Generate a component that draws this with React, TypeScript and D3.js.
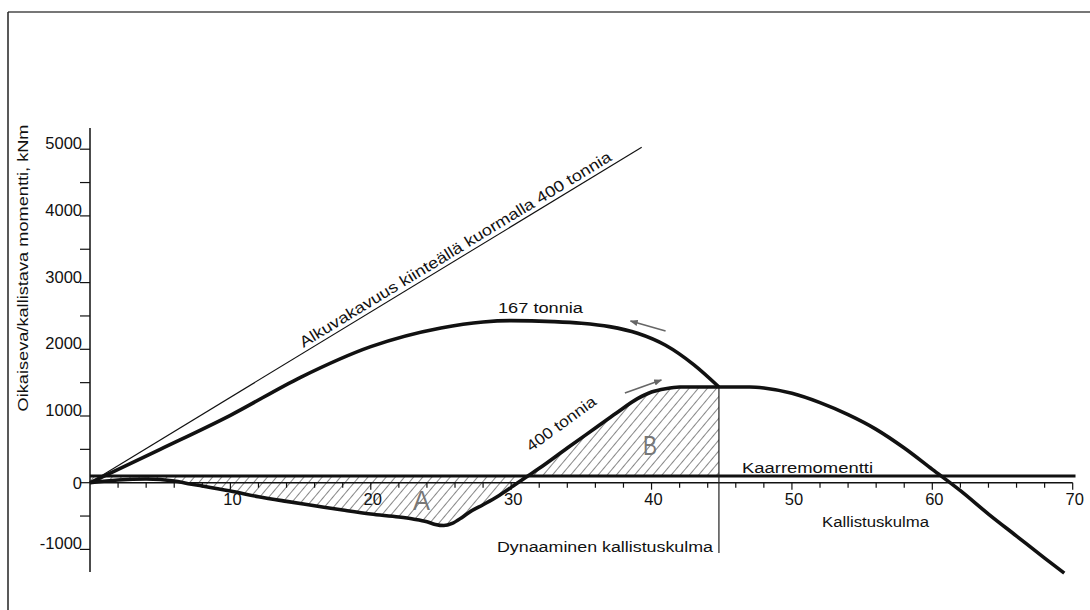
import { useEffect, useRef } from "react";
import * as d3 from "d3";

// kallistuskulma (deg) / momentti (kNm)
const angle167 = [0, 5, 10, 15, 20, 25, 28, 30, 33, 35, 37, 39, 41, 43, 44.8];
const moment167 = [0, 500, 1010, 1580, 2040, 2320, 2410, 2430, 2415, 2390, 2340, 2240, 2060, 1770, 1435];

const angle400 = [0, 2, 4, 6, 7, 8, 10, 12, 14, 16, 18, 20, 22, 23, 24, 24.6, 25.2, 25.8, 26.5, 27, 28, 29, 30, 31, 32, 34, 36, 37.5, 39, 40, 41, 42, 44.8];
const moment400 = [0, 40, 55, 25, -15, -50, -125, -210, -280, -345, -410, -470, -515, -545, -585, -625, -642, -610, -520, -445, -330, -210, -70, 75, 215, 520, 820, 1045, 1260, 1360, 1410, 1435, 1435];

const angleCommon = [44.8, 46, 47, 48, 50, 52, 54, 56, 58, 60, 62, 64, 66, 68, 69.4];
const momentCommon = [1435, 1435, 1435, 1420, 1340, 1200, 1020, 800, 520, 200, -120, -470, -800, -1130, -1355];

const stabilityAngle = [0, 39.3];
const stabilityMoment = [0, 5030];

const heelAngle = [0, 70.2];
const heelMoment = [100, 100];

const yMajorTicks = [-1000, 0, 1000, 2000, 3000, 4000, 5000];
const yMinorTicks = [-500, 500, 1500, 2500, 3500, 4500];
const xMajorTicks = [10, 20, 30, 40, 50, 60, 70];
const dynamicAngle = 44.8;

const FONT = "'Liberation Sans', Arial, sans-serif";

export default function App() {
    const svgRef = useRef<SVGSVGElement>(null);

    useEffect(() => {
        if (!svgRef.current) return;
        const svg = d3.select(svgRef.current);
        svg.selectAll("*").remove();

        const x = d3.scaleLinear().domain([0, 70]).range([90, 1072.7]);
        const y = d3.scaleLinear().domain([0, 5000]).range([482.7, 149.2]);

        const pts = (a: number[], m: number[]) => a.map((v, i) => [v, m[i]] as [number, number]);
        const line = d3.line<[number, number]>()
            .x(d => x(d[0]))
            .y(d => y(d[1]))
            .curve(d3.curveMonotoneX);

        // hatch pattern
        const defs = svg.append("defs");
        const pat = defs.append("pattern")
            .attr("id", "hatch")
            .attr("patternUnits", "userSpaceOnUse")
            .attr("width", 7)
            .attr("height", 10)
            .attr("patternTransform", "rotate(40)");
        pat.append("line")
            .attr("x1", 0).attr("y1", -1).attr("x2", 0).attr("y2", 11)
            .style("stroke", "#222")
            .style("stroke-width", 1.1);

        defs.append("marker")
            .attr("id", "arrow")
            .attr("viewBox", "0 0 10 10")
            .attr("refX", 9).attr("refY", 5)
            .attr("markerWidth", 5).attr("markerHeight", 5)
            .attr("markerUnits", "strokeWidth")
            .attr("orient", "auto")
            .append("path")
            .attr("d", "M0,1 L10,5 L0,9 Z")
            .style("fill", "#666");

        // frame
        svg.append("line").attr("x1", 8).attr("y1", 12).attr("x2", 1090).attr("y2", 12)
            .style("stroke", "#777").style("stroke-width", 2);
        svg.append("line").attr("x1", 8).attr("y1", 12).attr("x2", 8).attr("y2", 610)
            .style("stroke", "#222").style("stroke-width", 1.5);

        // hatched areas A and B
        svg.append("path")
            .datum(pts(angle400, moment400))
            .attr("d", d3.area<[number, number]>()
                .x(d => x(d[0]))
                .y0(y(heelMoment[0]))
                .y1(d => y(d[1]))
                .curve(d3.curveMonotoneX))
            .style("fill", "url(#hatch)")
            .style("stroke", "none");

        // y axis
        svg.append("line").attr("x1", x(0)).attr("x2", x(0)).attr("y1", 128).attr("y2", 572)
            .style("stroke", "#111").style("stroke-width", 1.5);
        [...yMajorTicks, ...yMinorTicks].forEach(t => {
            svg.append("line").attr("x1", x(0) - 10).attr("x2", x(0)).attr("y1", y(t)).attr("y2", y(t))
                .style("stroke", "#111").style("stroke-width", 1.2);
        });
        yMajorTicks.forEach(t => {
            svg.append("text")
                .attr("x", 82)
                .attr("y", y(t) + (t === 0 ? 6 : 0))
                .attr("text-anchor", "end")
                .style("font-family", FONT)
                .style("font-size", "16.5px")
                .style("fill", "#111")
                .text(t);
        });
        svg.append("text")
            .attr("transform", `translate(28,268) rotate(-90)`)
            .attr("text-anchor", "middle")
            .attr("textLength", 287)
            .attr("lengthAdjust", "spacingAndGlyphs")
            .style("font-family", FONT)
            .style("font-size", "15.5px")
            .style("fill", "#111")
            .text("Oikaiseva/kallistava momentti, kNm");

        // x axis
        svg.append("line").attr("x1", x(0)).attr("x2", x(70)).attr("y1", y(0)).attr("y2", y(0))
            .style("stroke", "#111").style("stroke-width", 1.5);
        d3.range(2, 71, 2).forEach(t => {
            svg.append("line").attr("x1", x(t)).attr("x2", x(t)).attr("y1", y(0))
                .attr("y2", y(0) + (t % 10 === 0 ? 7 : 5))
                .style("stroke", "#111").style("stroke-width", 1.2);
        });
        xMajorTicks.forEach(t => {
            svg.append("text")
                .attr("x", x(t) + 2)
                .attr("y", 505)
                .attr("text-anchor", "middle")
                .style("font-family", FONT)
                .style("font-size", "16.5px")
                .style("fill", "#111")
                .text(t);
        });

        // heeling moment line
        svg.append("path")
            .datum(pts(heelAngle, heelMoment))
            .attr("d", line)
            .style("fill", "none").style("stroke", "#111").style("stroke-width", 3);

        // initial stability line
        svg.append("path")
            .datum(pts(stabilityAngle, stabilityMoment))
            .attr("d", line)
            .style("fill", "none").style("stroke", "#111").style("stroke-width", 1.1);

        // dynamic angle vertical
        svg.append("line")
            .attr("x1", x(dynamicAngle)).attr("x2", x(dynamicAngle))
            .attr("y1", y(1435)).attr("y2", 553)
            .style("stroke", "#222").style("stroke-width", 1.2);

        // curves
        [pts(angle167, moment167), pts(angle400, moment400), pts(angleCommon, momentCommon)].forEach(d => {
            svg.append("path")
                .datum(d)
                .attr("d", line)
                .style("fill", "none")
                .style("stroke", "#111")
                .style("stroke-width", 3.6)
                .style("stroke-linejoin", "round");
        });

        // arrows
        const arrows = [
            { from: [41.0, 2274], to: [38.5, 2424] },
            { from: [38.1, 1345], to: [40.7, 1540] },
        ];
        arrows.forEach(a => {
            svg.append("line")
                .attr("x1", x(a.from[0])).attr("y1", y(a.from[1]))
                .attr("x2", x(a.to[0])).attr("y2", y(a.to[1]))
                .style("stroke", "#666").style("stroke-width", 1.6)
                .attr("marker-end", "url(#arrow)");
        });

        // labels
        const slope = (y(stabilityMoment[1]) - y(0)) / (x(stabilityAngle[1]) - x(0));
        const ang = Math.atan(slope) * 180 / Math.PI;
        const sx = x(15.2);
        const sy = y(0) + slope * (sx - x(0)) - 5;
        svg.append("text")
            .attr("transform", `translate(${sx},${sy}) rotate(${ang})`)
            .attr("textLength", 362)
            .attr("lengthAdjust", "spacingAndGlyphs")
            .style("font-family", FONT)
            .style("font-size", "15.5px")
            .style("fill", "#111")
            .text("Alkuvakavuus kiinteällä kuormalla 400 tonnia");

        const label = (txt: string, lx: number, ly: number, len: number, opts: any = {}) => {
            const t = svg.append("text")
                .attr("x", lx).attr("y", ly)
                .attr("textLength", len)
                .attr("lengthAdjust", "spacingAndGlyphs")
                .style("font-family", FONT)
                .style("font-size", opts.size || "15.5px")
                .style("fill", opts.fill || "#111")
                .text(txt);
            if (opts.rotate) t.attr("transform", `rotate(${opts.rotate},${lx},${ly})`);
            return t;
        };
        label("167 tonnia", 498, 313, 85);
        label("400 tonnia", 531, 452, 82, { rotate: -36 });
        label("Kaarremomentti", 742, 473, 131);
        label("Kallistuskulma", 822, 527, 107);
        label("Dynaaminen kallistuskulma", 497, 552, 216);
        label("A", 413, 510, 17, { size: "27px", fill: "#777" });
        label("B", 643, 455, 14, { size: "27px", fill: "#777" });
    }, []);

    return (
        <svg
            ref={svgRef}
            width={1090}
            height={610}
            style={{ position: "absolute", left: 0, top: 0, background: "#fff" }}
        />
    );
}
